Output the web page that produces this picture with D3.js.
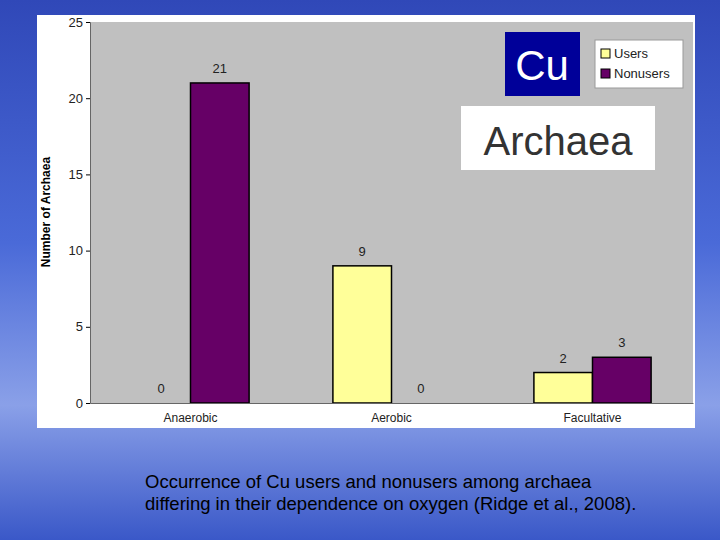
<!DOCTYPE html>
<html><head><meta charset="utf-8">
<script src="https://cdn.jsdelivr.net/npm/d3@7"></script>
<style>body{margin:0;overflow:hidden}</style>
</head><body>
<svg id="c" width="720" height="540"></svg>
<script>
const categories = ["Anaerobic","Aerobic","Facultative"];
const series = ["Users","Nonusers"];
const users = [0,9,2];
const nonusers = [21,0,3];
const yTicks = [0,5,10,15,20,25];
const colors = {Users:"#ffff99", Nonusers:"#660066"};

const svg = d3.select("#c");
const defs = svg.append("defs");
const g1 = defs.append("linearGradient").attr("id","bg").attr("x1",0).attr("y1",0).attr("x2",0).attr("y2",1);
g1.append("stop").attr("offset","0").attr("stop-color","#3048b8");
g1.append("stop").attr("offset","0.45").attr("stop-color","#4a6ad8");
g1.append("stop").attr("offset","0.75").attr("stop-color","#8aa0e8");
g1.append("stop").attr("offset","1").attr("stop-color","#3a58c8");
svg.append("rect").attr("width",720).attr("height",540).attr("fill","url(#bg)");

svg.append("rect").attr("x",37).attr("y",15).attr("width",658).attr("height",413).attr("fill","#fff");

const x = d3.scaleBand().domain(categories).range([90,693]);
const xs = d3.scaleBand().domain(series).range([0,x.bandwidth()]).paddingInner(0).paddingOuter(0.715);
const y = d3.scaleLinear().domain([0,25]).range([403,22]);

svg.append("rect").attr("x",90).attr("y",22).attr("width",603).attr("height",381).attr("fill","#c0c0c0");

const data = [];
categories.forEach((c,i)=>{data.push({c,s:"Users",v:users[i]});data.push({c,s:"Nonusers",v:nonusers[i]});});
svg.selectAll(".bar").data(data.filter(d=>d.v>0)).join("rect")
 .attr("x",d=>x(d.c)+xs(d.s)).attr("width",xs.bandwidth())
 .attr("y",d=>y(d.v)).attr("height",d=>y(0)-y(d.v))
 .attr("fill",d=>colors[d.s]).attr("stroke","#000").attr("stroke-width",1.5);
svg.selectAll(".lab").data(data).join("text")
 .attr("x",d=>x(d.c)+xs(d.s)+xs.bandwidth()/2).attr("y",d=>y(d.v)-10)
 .attr("text-anchor","middle").attr("font-family","Liberation Sans, Arial").attr("font-size",13).attr("fill","#222")
 .text(d=>d.v);

const ya = svg.append("g").attr("transform","translate(90,0)")
 .call(d3.axisLeft(y).tickValues(yTicks).tickSize(4));
ya.selectAll("text").attr("font-family","Liberation Sans, Arial").attr("font-size",13).attr("fill","#222");
const xa = svg.append("g").attr("transform","translate(0,403)")
 .call(d3.axisBottom(x).tickSize(0).tickPadding(10));
xa.selectAll("text").attr("font-family","Liberation Sans, Arial").attr("font-size",12).attr("fill","#222");
svg.selectAll(".domain").attr("stroke","#666");

svg.append("text").attr("transform","translate(50,212) rotate(-90)").attr("text-anchor","middle")
 .attr("font-family","Liberation Sans, Arial").attr("font-size",12).attr("font-weight","bold").text("Number of Archaea");

svg.append("rect").attr("x",505).attr("y",32).attr("width",75).attr("height",64).attr("fill","#000099");
svg.append("text").attr("x",542).attr("y",80).attr("text-anchor","middle").attr("fill","#fff")
 .attr("font-family","Liberation Sans, Arial").attr("font-size",42).text("Cu");
svg.append("rect").attr("x",461).attr("y",106).attr("width",194).attr("height",64).attr("fill","#fff");
svg.append("text").attr("x",558).attr("y",155).attr("text-anchor","middle").attr("fill","#333")
 .attr("font-family","Liberation Sans, Arial").attr("font-size",40).text("Archaea");

const lg = svg.append("g").attr("transform","translate(595,40)");
lg.append("rect").attr("width",88).attr("height",48).attr("fill","#fff").attr("stroke","#999");
series.forEach((s,i)=>{
 lg.append("rect").attr("x",6).attr("y",9+i*20).attr("width",9).attr("height",9).attr("fill",colors[s]).attr("stroke","#000");
 lg.append("text").attr("x",19).attr("y",18+i*20).attr("font-family","Liberation Sans, Arial").attr("font-size",13).attr("fill","#222").text(s);
});

svg.append("text").attr("x",145).attr("y",488).attr("font-family","Liberation Sans, Arial").attr("font-size",18.5).text("Occurrence of Cu users and nonusers among archaea");
svg.append("text").attr("x",145).attr("y",510).attr("font-family","Liberation Sans, Arial").attr("font-size",18.5).text("differing in their dependence on oxygen (Ridge et al., 2008).");
</script>
</body></html>
